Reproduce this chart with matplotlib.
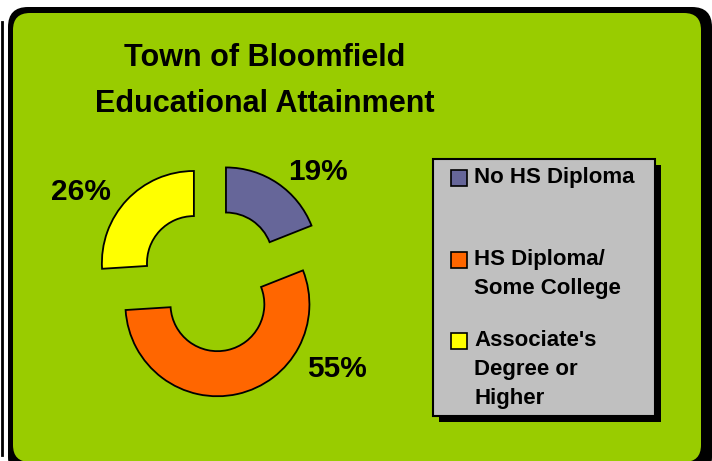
import matplotlib.pyplot as plt
from matplotlib.patches import FancyBboxPatch, Rectangle

# data
categories = ["No HS Diploma", "HS Diploma/\nSome College", "Associate's\nDegree or\nHigher"]
shares = [19, 55, 26]
colors = ["#666699", "#FF6600", "#FFFF00"]

# layout (pie data units, radius = 1)
label_pos = [(1.15, 1.17), (1.36, -0.97), (-1.43, 0.96)]

W, H = 712, 461
fig = plt.figure(figsize=(W / 100, H / 100), dpi=100)
fig.patch.set_facecolor("white")

# background frame, drawn in pixel coordinates
bg = fig.add_axes([0, 0, 1, 1])
bg.set_xlim(0, W)
bg.set_ylim(H, 0)
bg.axis("off")
bg.add_patch(FancyBboxPatch((8 + 20, 7 + 20), 704 - 40, 470 - 40,
                            boxstyle="round,pad=20", fc="black", ec="none"))
bg.add_patch(FancyBboxPatch((13 + 17, 13 + 17), 688 - 34, 449 - 34,
                            boxstyle="round,pad=17", fc="#99CC00", ec="none"))
bg.plot([1.5, 1.5], [22, 455], color="black", lw=2)

title_font = ["Liberation Sans", "DejaVu Sans"]
bg.text(265, 66, "Town of Bloomfield", ha="center", va="baseline",
        fontsize=22, fontweight="bold", family=title_font)
bg.text(265, 112, "Educational Attainment", ha="center", va="baseline",
        fontsize=22, fontweight="bold", family=title_font)

# legend box
bg.add_patch(Rectangle((439, 165), 222, 257, fc="black", ec="none"))
bg.add_patch(Rectangle((433, 159), 222, 257, fc="#C0C0C0", ec="black", lw=1.5))
entry_top = [170, 252, 333]
for lab, col, top in zip(categories, colors, entry_top):
    bg.add_patch(Rectangle((451, top), 16, 16, fc=col, ec="black", lw=1.2))
    for i, line in enumerate(lab.split("\n")):
        bg.text(474, top + 13 + i * 29, line, ha="left", va="baseline",
                fontsize=16, fontweight="bold", family=["Liberation Sans", "DejaVu Sans"])

# exploded doughnut
R = 92.0
cx, cy = 212, H - 280
side = 3.2 * R
ax = fig.add_axes([(cx - side / 2) / W, (cy - side / 2) / H, side / W, side / H])
ax.pie(shares, colors=colors, startangle=90, counterclock=False,
       explode=[0.27] * len(shares),
       wedgeprops=dict(width=0.49, edgecolor="black", linewidth=1.3))
ax.set_xlim(-1.6, 1.6)
ax.set_ylim(-1.6, 1.6)
ax.patch.set_alpha(0)
ax.axis("off")
for v, (x, y) in zip(shares, label_pos):
    ax.text(x, y, f"{v}%", ha="center", va="center", fontsize=21.5,
            fontweight="bold", family=["Liberation Sans", "DejaVu Sans"])

fig.savefig("out.png", dpi=100)
